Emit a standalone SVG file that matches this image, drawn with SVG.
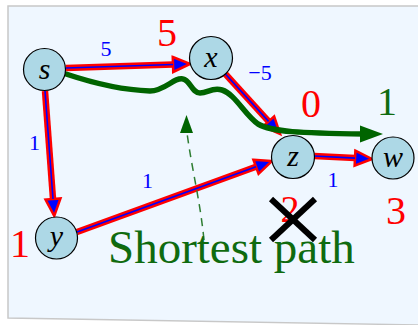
<svg xmlns="http://www.w3.org/2000/svg" width="418" height="325" viewBox="0 0 418 325">
<style>
.bg{fill:#eff7ff;stroke:#c8c8c8;stroke-width:1.5}
.node{fill:#add8e6;stroke:#000;stroke-width:1.2}
.nl{font-family:"Liberation Serif",serif;font-style:italic;font-size:30px;fill:#000;text-anchor:middle}
.red{stroke:#ff0000;stroke-width:6.5;fill:none}
.blue{stroke:#0000ff;stroke-width:1.6;fill:none}
.wl{font-family:"Liberation Serif",serif;font-size:22px;fill:#0000ff;text-anchor:middle}
.dl{font-family:"Liberation Serif",serif;font-size:40px;fill:#ff0000;text-anchor:middle}
.gl{font-family:"Liberation Serif",serif;font-size:40px;fill:#0f6b0f;text-anchor:middle}
.path{stroke:#006400;stroke-width:5.5;fill:none;stroke-linecap:round}
</style>
<defs>
<marker id="ah" markerUnits="userSpaceOnUse" viewBox="-2 -11 22 22" refX="0" refY="0" markerWidth="22" markerHeight="22" orient="auto">
<path d="M0,-7.5 L17,0 L0,7.5 Z" fill="#0000ff" stroke="#ff0000" stroke-width="2.5" stroke-linejoin="miter"/>
</marker>
</defs>
<polygon class="bg" points="8,6 424,6 424,325 8,318"/>
<g id="connectors">
<line class="red" x1="66" y1="68" x2="173" y2="64.5" marker-end="url(#ah)"/>
<line class="blue" x1="66" y1="68" x2="173" y2="64.5"/>
<line class="red" x1="45" y1="91" x2="53" y2="199" marker-end="url(#ah)"/>
<line class="blue" x1="45" y1="91" x2="53" y2="199"/>
<line class="red" x1="225.4" y1="74" x2="268.6" y2="121.4" marker-end="url(#ah)"/>
<line class="blue" x1="225.4" y1="74" x2="268.6" y2="121.4"/>
<line class="red" x1="77" y1="232" x2="256" y2="166.8" marker-end="url(#ah)"/>
<line class="blue" x1="77" y1="232" x2="256" y2="166.8"/>
<line class="red" x1="314" y1="156" x2="355" y2="158.1" marker-end="url(#ah)"/>
<line class="blue" x1="314" y1="156" x2="355" y2="158.1"/>
<text class="wl" x="106" y="56">5</text>
<text class="wl" x="34.5" y="150">1</text>
<text class="wl" x="260" y="80">−5</text>
<text class="wl" x="147.5" y="188">1</text>
<text class="wl" x="333" y="187">1</text>
</g>
<g id="shortest-path">
<path class="path" d="M66,74 C90,82 120,90 150,91 C165,91 174,77 183,79 C190,80 192,93 200,93 C208,93 212,87 222,90 C235,94 245,115 258,124 C272,132 300,133 364,134"/>
<polygon points="383,134 360,125.5 360,142.5" fill="#006400"/>
<path d="M204,240 C200,200 192,170 187,133" stroke="#2e7d32" stroke-width="1.5" fill="none" stroke-dasharray="8,6"/>
<polygon points="186.5,115 180,133 193,133" fill="#006400"/>
<text x="108" y="263" style="font-family:'Liberation Serif',serif;font-size:47px;fill:#0f6b0f">Shortest path</text>
</g>
<g id="node-s"><circle class="node" cx="44.5" cy="69.5" r="21"/><text class="nl" x="44.5" y="79">s</text></g>
<g id="node-x"><circle class="node" cx="211" cy="58" r="21.5"/><text class="nl" x="211" y="67">x</text></g>
<g id="node-z"><circle class="node" cx="293" cy="157" r="21.5"/><text class="nl" x="293" y="166">z</text></g>
<g id="node-w"><circle class="node" cx="393" cy="158" r="21"/><text class="nl" x="393" y="167">w</text></g>
<g id="node-y"><circle class="node" cx="56.5" cy="238" r="21"/><text class="nl" x="56.5" y="246">y</text></g>
<g id="distances">
<text class="dl" x="167" y="46">5</text>
<text class="dl" x="311" y="117">0</text>
<text class="dl" x="20" y="257">1</text>
<text class="dl" x="290" y="222" style="font-size:38px">2</text>
<text class="dl" x="396" y="224">3</text>
<text class="gl" x="387" y="115">1</text>
</g>
<g id="cross" stroke="#000" stroke-width="6">
<line x1="271" y1="199" x2="315" y2="240"/>
<line x1="315" y1="199" x2="271" y2="240"/>
</g>
</svg>
